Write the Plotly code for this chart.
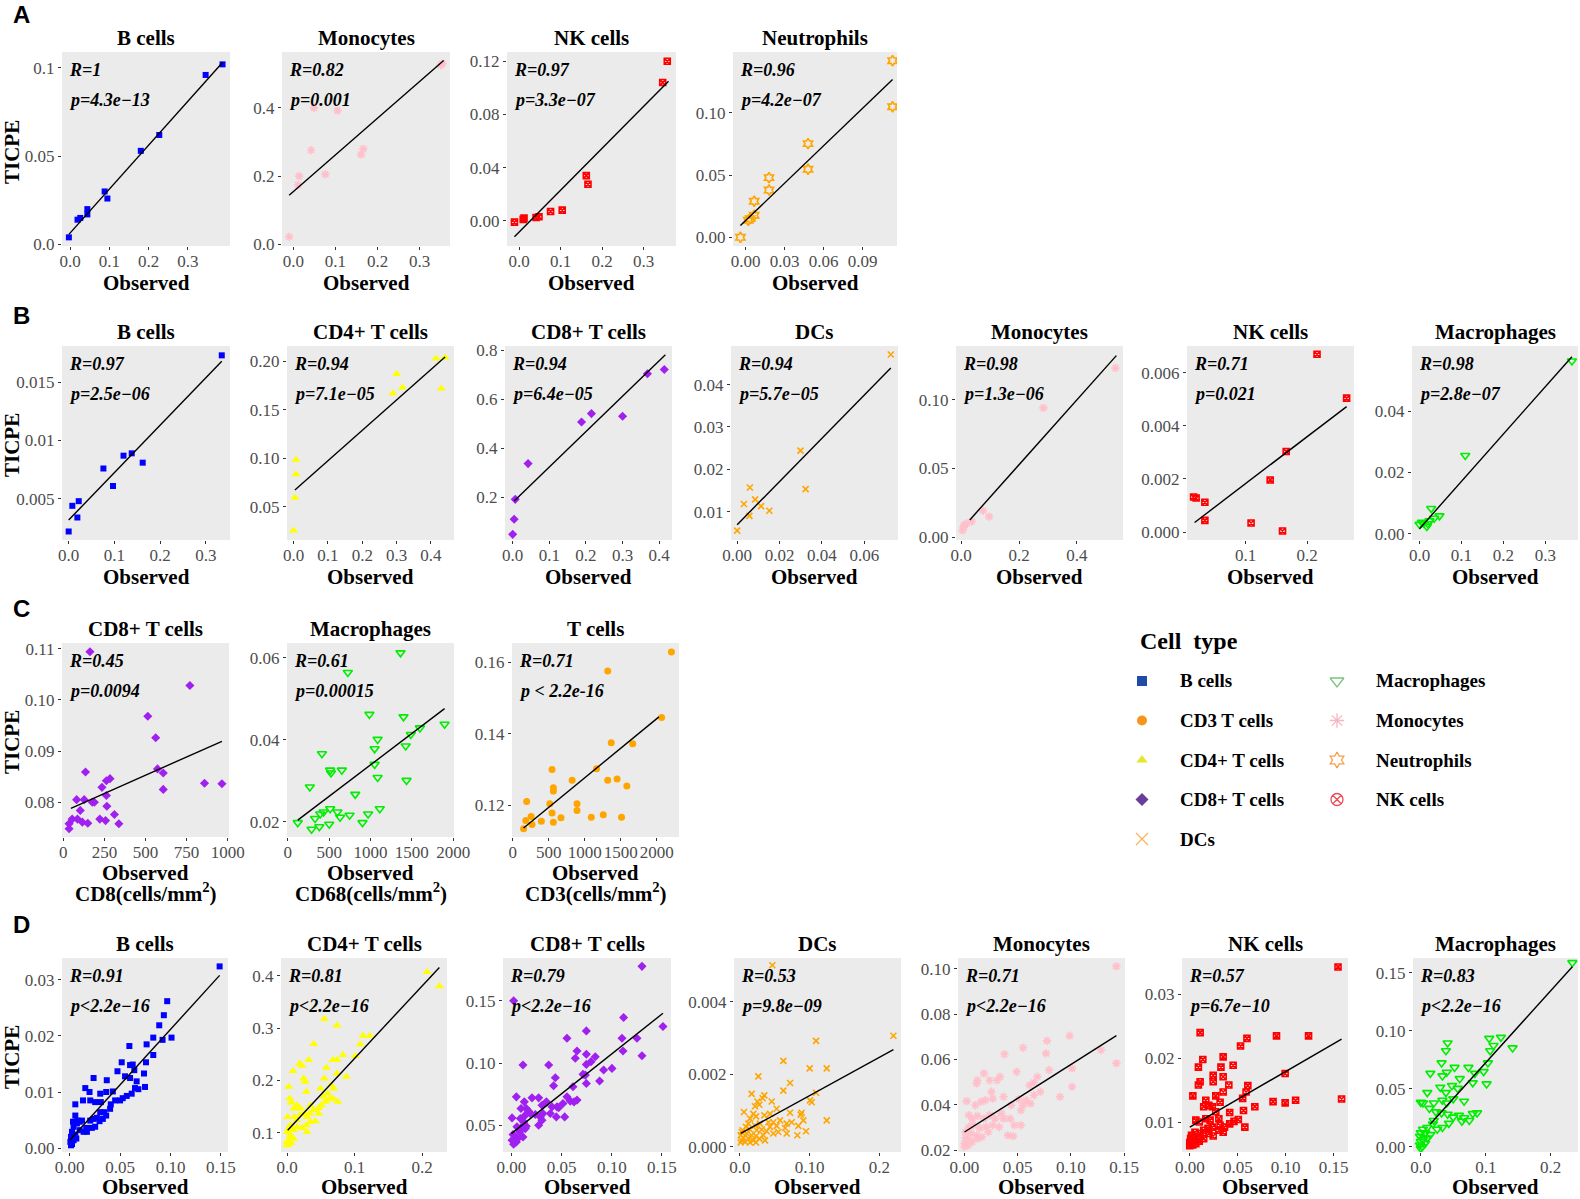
import plotly.graph_objects as go

W, H = 1580, 1199

# ---------------- data: (Observed, TICPE) ----------------
# panel A
A_bcells = [(-0.003, 0.004), (0.019, 0.014), (0.026, 0.015), (0.044, 0.017), (0.044, 0.020),
            (0.088, 0.030), (0.095, 0.026), (0.180, 0.053), (0.227, 0.062), (0.345, 0.096),
            (0.388, 0.102)]
A_bcells_fit = [(-0.003, 0.0057), (0.388, 0.103)]
A_mono = [(-0.010, 0.022), (0.011, 0.174), (0.014, 0.200), (0.042, 0.276), (0.049, 0.400),
          (0.076, 0.205), (0.105, 0.392), (0.161, 0.263), (0.166, 0.280), (0.350, 0.525),
          (0.354, 0.530)]
A_mono_fit = [(-0.010, 0.144), (0.357, 0.539)]
A_nk = [(-0.011, -0.001), (0.010, 0.001), (0.012, 0.002), (0.041, 0.0025), (0.048, 0.003),
        (0.076, 0.007), (0.104, 0.008), (0.162, 0.034), (0.166, 0.0275), (0.346, 0.104),
        (0.357, 0.120)]
A_nk_fit = [(-0.011, -0.012), (0.360, 0.105)]
A_neut = [(-0.004, 0.0), (0.002, 0.0137), (0.0035, 0.015), (0.0066, 0.0177), (0.0066, 0.029),
          (0.018, 0.048), (0.018, 0.038), (0.048, 0.0753), (0.048, 0.0547), (0.113, 0.142),
          (0.113, 0.105)]
A_neut_fit = [(-0.004, 0.0094), (0.113, 0.1268)]

# panel B
B_bcells = [(0.0, 0.0022), (0.008, 0.0044), (0.019, 0.0034), (0.022, 0.0048), (0.076, 0.0076),
            (0.097, 0.0061), (0.120, 0.0087), (0.138, 0.0089), (0.162, 0.0081), (0.335, 0.0173)]
B_bcells_fit = [(0.0, 0.00318), (0.335, 0.0168)]
B_cd4 = [(0.0, 0.0254), (0.004, 0.0594), (0.007, 0.0834), (0.007, 0.0986), (0.289, 0.167),
         (0.300, 0.187), (0.317, 0.173), (0.415, 0.203), (0.430, 0.172), (0.441, 0.204)]
B_cd4_fit = [(0.004, 0.0672), (0.441, 0.2045)]
B_cd8 = [(0.0, 0.049), (0.004, 0.111), (0.007, 0.192), (0.042, 0.338), (0.188, 0.508),
         (0.215, 0.542), (0.300, 0.531), (0.368, 0.705), (0.414, 0.722)]
B_cd8_fit = [(0.004, 0.185), (0.417, 0.782)]
B_dcs = [(0.0, 0.0055), (0.0032, 0.0118), (0.006, 0.0157), (0.0058, 0.0090), (0.0085, 0.0129),
         (0.0113, 0.0113), (0.0152, 0.0102), (0.0299, 0.0244), (0.0323, 0.0153), (0.0725, 0.0471)]
B_dcs_fit = [(0.0, 0.0069), (0.0725, 0.0439)]
B_mono = [(0.005, 0.005), (0.009, 0.0077), (0.012, 0.009), (0.019, 0.010), (0.037, 0.0114),
          (0.076, 0.0193), (0.097, 0.015), (0.284, 0.094), (0.533, 0.123)]
B_mono_fit = [(0.030, 0.0126), (0.536, 0.132)]
B_nk = [(0.0157, 0.00132), (0.0198, 0.00128), (0.034, 0.00112), (0.034, 0.00044), (0.109, 0.00034),
        (0.140, 0.00196), (0.160, 0.00004), (0.166, 0.00303), (0.216, 0.00669), (0.264, 0.00504)]
B_nk_fit = [(0.0174, 0.00036), (0.264, 0.00472)]
B_macro = [(0.0, 0.003), (0.0056, 0.0037), (0.0095, 0.0034), (0.0175, 0.0023), (0.0198, 0.0032),
           (0.0238, 0.0042), (0.0278, 0.0082), (0.035, 0.005), (0.0476, 0.0058), (0.109, 0.0255),
           (0.3635, 0.0564)]
B_macro_fit = [(0.0, 0.0016), (0.3635, 0.0578)]

# panel C (cells/mm2)
C_cd8 = [(35, 0.0758), (35, 0.0748), (54, 0.0767), (81, 0.0805), (86, 0.0767), (103, 0.0784),
         (116, 0.0761), (127, 0.0805), (135, 0.0859), (149, 0.0759), (162, 0.1094), (176, 0.0800),
         (189, 0.0800), (222, 0.0767), (235, 0.0829), (257, 0.0764), (262, 0.0813), (265, 0.0792),
         (262, 0.0842), (284, 0.0846), (311, 0.0776), (338, 0.0758), (514, 0.0968), (562, 0.0926),
         (573, 0.0865), (608, 0.0857), (608, 0.0825), (770, 0.1028), (859, 0.0837), (965, 0.0836)]
C_cd8_fit = [(46, 0.0788), (965, 0.0919)]
C_macro = [(120, 0.0198), (266, 0.0285), (287, 0.0182), (329, 0.0208), (381, 0.0188), (392, 0.0219),
           (413, 0.0366), (433, 0.0224), (501, 0.0194), (512, 0.0232), (512, 0.0326), (522, 0.0319),
           (600, 0.0224), (632, 0.0211), (653, 0.0326), (726, 0.0564), (747, 0.0216), (815, 0.0267),
           (903, 0.0198), (971, 0.0219), (987, 0.0462), (1050, 0.0340), (1050, 0.0378),
           (1086, 0.0401), (1086, 0.0308), (1112, 0.0232), (1363, 0.0612), (1399, 0.0456),
           (1426, 0.0385), (1436, 0.0301), (1488, 0.0413), (1598, 0.0429), (1896, 0.0438)]
C_macro_fit = [(120, 0.0204), (1896, 0.0476)]
C_tcells = [(149, 0.1135), (180, 0.1158), (192, 0.1211), (254, 0.1169), (266, 0.1147), (396, 0.1156),
            (514, 0.1205), (545, 0.1179), (545, 0.1300), (563, 0.1153), (563, 0.1249), (563, 0.1240),
            (669, 0.1166), (824, 0.1270), (892, 0.1205), (892, 0.1186), (1090, 0.1167), (1164, 0.1302),
            (1257, 0.1174), (1319, 0.1270), (1319, 0.1575), (1368, 0.1375), (1449, 0.1274),
            (1511, 0.1167), (1585, 0.1254), (1666, 0.1372), (2068, 0.1445), (2204, 0.1628)]
C_tcells_fit = [(149, 0.1137), (2031, 0.1447)]

# panel D
D_bcells = [(0.1487, 0.0324), (0.0967, 0.0262), (0.0934, 0.0237), (0.0888, 0.0219), (0.0829, 0.0197),
            (0.101, 0.0197), (0.0921, 0.0193), (0.0829, 0.0166), (0.0592, 0.0182), (0.0763, 0.0185),
            (0.0757, 0.0153), (0.0737, 0.0133), (0.0599, 0.0148), (0.0625, 0.0149), (0.0516, 0.0153),
            (0.0474, 0.0137), (0.0549, 0.0128), (0.0599, 0.0125), (0.0641, 0.0139), (0.0664, 0.0119),
            (0.0648, 0.0107), (0.0681, 0.0105), (0.0747, 0.0109), (0.0615, 0.0097), (0.0566, 0.0093),
            (0.0526, 0.0089), (0.05, 0.0085), (0.0451, 0.0085), (0.0428, 0.0101), (0.0368, 0.0121),
            (0.0362, 0.0100), (0.0303, 0.0097), (0.0237, 0.0125), (0.0155, 0.0107), (0.0197, 0.0100),
            (0.0204, 0.0085), (0.0132, 0.0085), (0.0056, 0.0078), (0.0253, 0.0082), (0.0309, 0.0082),
            (0.0401, 0.0070), (0.0408, 0.0078), (0.0362, 0.0058), (0.0329, 0.0052), (0.0296, 0.0048),
            (0.0270, 0.0054), (0.0237, 0.0052), (0.0204, 0.0049), (0.0164, 0.0036), (0.0220, 0.0036),
            (0.0253, 0.0038), (0.0303, 0.0064), (0.0342, 0.0064), (0.0122, 0.0049), (0.0099, 0.0047),
            (0.0072, 0.0044), (0.0039, 0.0038), (0.0023, 0.0029), (0.0013, 0.0020), (0.0007, 0.0011),
            (0.0023, 0.0007), (0.0039, 0.0014), (0.0066, 0.0017), (0.0056, 0.0024), (0.0099, 0.0032),
            (0.0138, 0.0029), (0.0171, 0.0029), (0.0033, 0.0047), (0.0079, 0.0049), (0.0056, 0.0058),
            (0.0013, 0.0005)]
D_bcells_fit = [(0.0, 0.0014), (0.1487, 0.0308)]
D_cd4 = [(0.2074, 0.407), (0.2257, 0.380), (0.0553, 0.3175), (0.0741, 0.305), (0.0395, 0.2695),
         (0.1126, 0.2855), (0.1225, 0.2855), (0.1086, 0.269), (0.1012, 0.2465), (0.0830, 0.2485),
         (0.0741, 0.2388), (0.0681, 0.2388), (0.0583, 0.2241), (0.0321, 0.2388), (0.0188, 0.2324),
         (0.0222, 0.228), (0.0089, 0.2177), (0.0025, 0.1877), (0.0247, 0.2036), (0.0272, 0.1972),
         (0.0286, 0.1781), (0.0494, 0.1845), (0.0553, 0.2036), (0.0741, 0.2132), (0.0879, 0.2069),
         (0.0652, 0.1909), (0.0691, 0.1845), (0.0751, 0.1589), (0.0681, 0.1653), (0.0632, 0.164),
         (0.0568, 0.1589), (0.0509, 0.1525), (0.0469, 0.1473), (0.0395, 0.1429), (0.0346, 0.1525),
         (0.0336, 0.1365), (0.0296, 0.1301), (0.0262, 0.1365), (0.0198, 0.1461), (0.0148, 0.1525),
         (0.0099, 0.1461), (0.0040, 0.1653), (0.0064, 0.1576), (0.0010, 0.1301), (0.0109, 0.1301),
         (0.0148, 0.1237), (0.0198, 0.1345), (0.0420, 0.1218), (0.0346, 0.1205), (0.0286, 0.1141),
         (0.0222, 0.1090), (0.0296, 0.1013), (0.0148, 0.1109), (0.0099, 0.1045), (0.0049, 0.1141),
         (0.0025, 0.1077), (0.0010, 0.1013), (0.0040, 0.0949), (0.0074, 0.0917), (0.0025, 0.0853),
         (0.0, 0.082), (0.0059, 0.0808), (0.0025, 0.0776), (0.0, 0.0757), (0.0099, 0.0885),
         (0.0469, 0.1365), (0.0602, 0.1749), (0.0543, 0.1685)]
D_cd4_fit = [(0.001, 0.1045), (0.2257, 0.416)]
D_cd8 = [(0.1301, 0.1777), (0.1118, 0.1366), (0.1510, 0.1293), (0.1251, 0.1199), (0.1102, 0.1199),
         (0.1112, 0.1097), (0.1301, 0.1059), (0.1002, 0.0957), (0.0919, 0.0944), (0.0879, 0.0855),
         (0.0836, 0.1051), (0.0793, 0.1011), (0.0747, 0.1258), (0.0747, 0.1070), (0.0747, 0.0989),
         (0.0737, 0.0903), (0.0747, 0.0836), (0.0714, 0.0909), (0.0654, 0.1097), (0.0637, 0.1038),
         (0.0554, 0.1199), (0.0372, 0.0984), (0.0116, 0.0984), (0.0023, 0.15), (0.0614, 0.0809),
         (0.0654, 0.0702), (0.0624, 0.0688), (0.0587, 0.0694), (0.0554, 0.0728), (0.0514, 0.0675),
         (0.0531, 0.0567), (0.0455, 0.0648), (0.0471, 0.0640), (0.0438, 0.0882), (0.0421, 0.0817),
         (0.0405, 0.0648), (0.0448, 0.0567), (0.0388, 0.0594), (0.0349, 0.0688), (0.0305, 0.0661),
         (0.0315, 0.0594), (0.0272, 0.0720), (0.0289, 0.0567), (0.0272, 0.05), (0.0305, 0.0540),
         (0.0206, 0.0720), (0.0239, 0.0586), (0.0189, 0.0594), (0.0149, 0.0634), (0.0173, 0.0613),
         (0.0129, 0.0688), (0.0096, 0.0634), (0.0139, 0.0581), (0.0090, 0.0554), (0.0123, 0.0527),
         (0.0149, 0.0492), (0.0139, 0.0473), (0.0106, 0.0487), (0.0116, 0.0406), (0.0083, 0.0446),
         (0.0056, 0.0487), (0.0040, 0.0406), (0.0017, 0.0425), (0.0007, 0.0379), (0.0023, 0.0347),
         (0.0050, 0.0366), (0.0007, 0.0559), (0.0050, 0.0728), (0.0063, 0.0392)]
D_cd8_fit = [(0.0, 0.0433), (0.151, 0.140)]
D_dcs = [(0.0464, 0.0050), (0.2201, 0.00306), (0.1091, 0.00292), (0.0622, 0.00237), (0.1, 0.00216),
         (0.1244, 0.00216), (0.0263, 0.00194), (0.0718, 0.00176), (0.0622, 0.00155), (0.0167, 0.00146),
         (0.1091, 0.00149), (0.1005, 0.00128), (0.1029, 0.00123), (0.0349, 0.00142), (0.0325, 0.00134),
         (0.0249, 0.00125), (0.0278, 0.00116), (0.0455, 0.00125), (0.0215, 0.00112), (0.0057, 0.00096),
         (0.0526, 0.00105), (0.0718, 0.00094), (0.0885, 0.00094), (0.0871, 0.00089), (0.0431, 0.00091),
         (0.0349, 0.00087), (0.0230, 0.00084), (0.0144, 0.00078), (0.0191, 0.00091), (0.0909, 0.00073),
         (0.1244, 0.00073), (0.0574, 0.00073), (0.0478, 0.00068), (0.0407, 0.00068), (0.067, 0.00064),
         (0.0742, 0.00068), (0.0837, 0.00058), (0.0646, 0.00052), (0.0526, 0.00058), (0.0431, 0.00055),
         (0.0287, 0.00064), (0.0215, 0.00059), (0.0120, 0.00064), (0.0086, 0.00055), (0.0144, 0.00048),
         (0.0239, 0.00046), (0.0311, 0.00048), (0.0383, 0.00043), (0.0478, 0.00037), (0.0550, 0.00041),
         (0.0670, 0.00037), (0.0947, 0.00043), (0.0823, 0.00032), (0.0335, 0.00032), (0.0230, 0.00030),
         (0.0167, 0.00032), (0.0096, 0.00037), (0.0024, 0.00041), (0.0010, 0.00032), (0.0048, 0.00025),
         (0.0120, 0.00023), (0.0191, 0.00018), (0.0278, 0.00023), (0.0359, 0.00018), (0.0024, 0.00018),
         (0.0072, 0.00014), (0.0010, 0.00012), (0.0144, 0.00012), (0.0230, 0.00012), (0.0038, 0.00046)]
D_dcs_fit = [(0.001, 0.00037), (0.2201, 0.00268)]
D_mono = [(0.1427, 0.101), (0.1427, 0.0583), (0.1284, 0.0642), (0.0987, 0.0705), (0.0775, 0.0682),
          (0.0766, 0.0627), (0.0550, 0.0652), (0.0375, 0.0623), (0.0795, 0.0554), (0.1011, 0.0561),
          (0.1011, 0.0480), (0.0897, 0.0436), (0.0685, 0.0524), (0.0652, 0.0499), (0.0612, 0.0487),
          (0.0579, 0.0421), (0.0550, 0.0399), (0.0510, 0.0425), (0.0489, 0.0546), (0.0530, 0.0377),
          (0.0440, 0.0399), (0.0367, 0.0436), (0.0334, 0.0524), (0.0306, 0.0509), (0.0236, 0.0509),
          (0.0183, 0.0539), (0.0122, 0.0509), (0.0114, 0.0495), (0.0253, 0.0458), (0.0265, 0.0428),
          (0.0196, 0.0421), (0.0155, 0.0414), (0.0102, 0.0399), (0.0020, 0.0417), (0.0041, 0.0355),
          (0.0073, 0.0340), (0.0122, 0.0352), (0.0183, 0.0340), (0.0236, 0.0355), (0.0285, 0.0340),
          (0.0347, 0.0362), (0.0367, 0.0340), (0.0428, 0.0340), (0.0469, 0.0311), (0.0530, 0.0311),
          (0.0408, 0.0266), (0.0457, 0.0263), (0.0326, 0.0303), (0.0265, 0.0311), (0.0204, 0.0303),
          (0.0143, 0.0299), (0.0082, 0.0311), (0.0041, 0.0303), (0.0008, 0.0281), (0.0061, 0.0274),
          (0.0114, 0.0266), (0.0163, 0.0259), (0.0224, 0.0281), (0.0012, 0.0255), (0.0041, 0.0244),
          (0.0, 0.0229), (0.0033, 0.0222), (0.0073, 0.0237), (0.0122, 0.0252), (0.0, 0.0215),
          (0.0652, 0.0443), (0.0713, 0.0458), (0.0620, 0.0406)]
D_mono_fit = [(0.0, 0.0281), (0.1427, 0.0705)]
D_nk = [(0.1545, 0.0343), (0.1582, 0.0136), (0.0108, 0.0240), (0.1238, 0.0235), (0.0904, 0.0235),
        (0.0596, 0.0231), (0.0529, 0.0219), (0.0136, 0.0198), (0.0090, 0.0186), (0.0348, 0.0202),
        (0.0452, 0.0189), (0.0325, 0.0186), (0.0244, 0.0163), (0.0348, 0.0171), (0.0244, 0.0173),
        (0.0090, 0.0158), (0.0108, 0.0163), (0.0032, 0.0141), (0.0605, 0.0157), (0.0994, 0.0176),
        (0.0868, 0.0132), (0.0994, 0.0130), (0.1103, 0.0134), (0.0678, 0.0124), (0.0587, 0.0147),
        (0.0551, 0.0137), (0.0560, 0.0118), (0.0416, 0.0115), (0.0348, 0.0147), (0.0316, 0.0131),
        (0.0167, 0.0134), (0.0199, 0.0126), (0.0145, 0.0124), (0.0235, 0.0124), (0.0303, 0.0105),
        (0.0271, 0.0116), (0.0416, 0.0097), (0.0506, 0.0104), (0.0574, 0.0092), (0.0461, 0.0101),
        (0.0362, 0.0092), (0.0316, 0.0095), (0.0235, 0.0092), (0.0167, 0.0105), (0.0212, 0.0103),
        (0.0099, 0.0100), (0.0063, 0.0103), (0.0145, 0.0087), (0.0199, 0.0082), (0.0244, 0.0078),
        (0.0348, 0.0084), (0.0303, 0.0087), (0.0108, 0.0082), (0.0054, 0.0084), (0.0018, 0.0079),
        (0.0077, 0.0076), (0.0009, 0.0074), (0.0045, 0.0071), (0.0, 0.0068), (0.0032, 0.0064),
        (0.0, 0.0063), (0.0063, 0.0066), (0.0099, 0.0070), (0.0145, 0.0074), (0.0190, 0.0090),
        (0.0271, 0.0141), (0.0407, 0.0158)]
D_nk_fit = [(0.0, 0.0092), (0.1582, 0.0230)]
D_macro = [(0.2333, 0.1587), (0.1233, 0.0943), (0.1413, 0.0852), (0.1053, 0.0934), (0.112, 0.0873),
           (0.1067, 0.0828), (0.0413, 0.0895), (0.0387, 0.0828), (0.032, 0.0723), (0.052, 0.0684),
           (0.04, 0.0642), (0.0333, 0.0611), (0.0147, 0.0633), (0.1033, 0.0723), (0.0967, 0.0648),
           (0.1013, 0.0542), (0.0833, 0.0633), (0.08, 0.0551), (0.0733, 0.0684), (0.06, 0.0587),
           (0.0567, 0.0503), (0.048, 0.0527), (0.0667, 0.0392), (0.05, 0.0413), (0.0387, 0.0467),
           (0.0333, 0.0401), (0.03, 0.0512), (0.02, 0.0377), (0.01, 0.0467), (0.0033, 0.0377),
           (0.0, 0.0383), (0.0133, 0.0331), (0.0233, 0.0301), (0.032, 0.0292), (0.0413, 0.0280),
           (0.05, 0.0256), (0.0587, 0.0271), (0.0667, 0.0250), (0.0747, 0.0226), (0.0867, 0.0292),
           (0.08, 0.0286), (0.0633, 0.0220), (0.0433, 0.0202), (0.0333, 0.0166), (0.0253, 0.0151),
           (0.0187, 0.0196), (0.01, 0.0166), (0.0033, 0.0151), (0.0067, 0.0120), (0.0147, 0.0105),
           (0.0, 0.0120), (-0.0013, 0.0090), (0.0033, 0.0060), (0.0, 0.0045), (-0.0013, 0.0015),
           (0.0020, 0.0), (0.0, -0.0015), (0.0067, 0.0030), (0.01, 0.0075), (0.02, 0.0226),
           (0.04, 0.0377)]
D_macro_fit = [(0.0147, 0.0196), (0.2333, 0.1551)]

LEGEND_COL1 = ["B cells", "CD3 T cells", "CD4+ T cells", "CD8+ T cells", "DCs"]
LEGEND_COL2 = ["Macrophages", "Monocytes", "Neutrophils", "NK cells"]

# ---------------- styles ----------------
SERIF = "Liberation Serif"
TICK_COLOR = "#4D4D4D"
STYLE = {
    "B cells": dict(symbol="square", color="#0000FF", size=6, open=False),
    "Monocytes": dict(symbol="asterisk-open", color="#FFC0CB", size=7, open=True),
    "NK cells": dict(symbol="square-x-open", color="#FF0000", size=6, open=True),
    "Neutrophils": dict(symbol="hexagram-open", color="#FFA500", size=8, open=True),
    "CD4+ T cells": dict(symbol="triangle-up", color="#FFFF00", size=8, open=False),
    "CD8+ T cells": dict(symbol="diamond", color="#A020F0", size=7, open=False),
    "DCs": dict(symbol="x-thin-open", color="#FFA500", size=6, open=True),
    "Macrophages": dict(symbol="triangle-down-open", color="#00EE00", size=8, open=True),
    "T cells": dict(symbol="circle", color="#FFA500", size=7, open=False),
}
LEGEND_STYLE = {
    "B cells": ("square", "#1F4CA6"), "CD3 T cells": ("circle", "#F7941D"),
    "CD4+ T cells": ("triangle-up", "#E6E62E"), "CD8+ T cells": ("diamond", "#6A3D9A"),
    "DCs": ("x-thin-open", "#F9B35B"), "Macrophages": ("triangle-down-open", "#7CC47C"),
    "Monocytes": ("asterisk-open", "#F7B6C4"), "Neutrophils": ("hexagram-open", "#F5A04A"),
    "NK cells": ("circle-x-open", "#EE4A5A"),
}

# rows: top / bottom of the grey panel (px) and offset of the "Observed" label
ROWS = {"A": (52, 246), "B": (346, 540), "C": (643, 837), "D": (958, 1152)}
OBS_OFFSET = {"A": 37, "B": 37, "C": 36, "D": 35}

# (row, title, points, fit, R, p, x0, x1 px, xrange, yrange, xticks, xlabels, yticks, ylabels, xunit)
t3 = ["0.0", "0.1", "0.2", "0.3"]
t4 = ["0.0", "0.1", "0.2", "0.3", "0.4"]
panels = [
    ("A", "B cells", A_bcells, A_bcells_fit, "R=1", "p=4.3e\u221213", 62, 230,
     [-0.0205, 0.407], [-0.0009, 0.109], [0, .1, .2, .3], t3, [0, .05, .1], ["0.0", "0.05", "0.1"], None),
    ("A", "Monocytes", A_mono, A_mono_fit, "R=0.82", "p=0.001", 282, 450,
     [-0.027, 0.372], [-0.005, 0.564], [0, .1, .2, .3], t3, [0, .2, .4], ["0.0", "0.2", "0.4"], None),
    ("A", "NK cells", A_nk, A_nk_fit, "R=0.97", "p=3.3e\u221207", 507, 676,
     [-0.029, 0.378], [-0.019, 0.127], [0, .1, .2, .3], t3, [0, .04, .08, .12],
     ["0.00", "0.04", "0.08", "0.12"], None),
    ("A", "Neutrophils", A_neut, A_neut_fit, "R=0.96", "p=4.2e\u221207", 733, 897,
     [-0.0097, 0.1164], [-0.007, 0.149], [0, .03, .06, .09], ["0.00", "0.03", "0.06", "0.09"],
     [0, .05, .1], ["0.00", "0.05", "0.10"], None),

    ("B", "B cells", B_bcells, B_bcells_fit, "R=0.97", "p=2.5e\u221206", 62, 230,
     [-0.0146, 0.353], [0.00147, 0.0181], [0, .1, .2, .3], t3, [.005, .01, .015],
     ["0.005", "0.01", "0.015"], None),
    ("B", "CD4+ T cells", B_cd4, B_cd4_fit, "R=0.94", "p=7.1e\u221205", 287, 454,
     [-0.019, 0.467], [0.0157, 0.2158], [0, .1, .2, .3, .4], t4, [.05, .1, .15, .2],
     ["0.05", "0.10", "0.15", "0.20"], None),
    ("B", "CD8+ T cells", B_cd8, B_cd8_fit, "R=0.94", "p=6.4e\u221205", 505, 672,
     [-0.021, 0.435], [0.026, 0.818], [0, .1, .2, .3, .4], t4, [.2, .4, .6, .8],
     ["0.2", "0.4", "0.6", "0.8"], None),
    ("B", "DCs", B_dcs, B_dcs_fit, "R=0.94", "p=5.7e\u221205", 731, 898,
     [-0.0029, 0.0759], [0.0033, 0.0491], [0, .02, .04, .06], ["0.00", "0.02", "0.04", "0.06"],
     [.01, .02, .03, .04], ["0.01", "0.02", "0.03", "0.04"], None),
    ("B", "Monocytes", B_mono, B_mono_fit, "R=0.98", "p=1.3e\u221206", 956, 1123,
     [-0.0176, 0.559], [-0.002, 0.139], [0, .2, .4], ["0.0", "0.2", "0.4"], [0, .05, .1],
     ["0.00", "0.05", "0.10"], None),
    ("B", "NK cells", B_nk, B_nk_fit, "R=0.71", "p=0.021", 1187, 1354,
     [0.005, 0.276], [-0.0003, 0.0070], [.1, .2], ["0.1", "0.2"], [0, .002, .004, .006],
     ["0.000", "0.002", "0.004", "0.006"], None),
    ("B", "Macrophages", B_macro, B_macro_fit, "R=0.98", "p=2.8e\u221207", 1412, 1578,
     [-0.018, 0.378], [-0.0021, 0.0613], [0, .1, .2, .3], t3, [0, .02, .04],
     ["0.00", "0.02", "0.04"], None),

    ("C", "CD8+ T cells", C_cd8, C_cd8_fit, "R=0.45", "p=0.0094", 62, 229,
     [-8, 1008], [0.0732, 0.1111], [0, 250, 500, 750, 1000], ["0", "250", "500", "750", "1000"],
     [.08, .09, .10, .11], ["0.08", "0.09", "0.10", "0.11"], "CD8"),
    ("C", "Macrophages", C_macro, C_macro_fit, "R=0.61", "p=0.00015", 287, 454,
     [-10, 2010], [0.0163, 0.0636], [0, 500, 1000, 1500, 2000], ["0", "500", "1000", "1500", "2000"],
     [.02, .04, .06], ["0.02", "0.04", "0.06"], "CD68"),
    ("C", "T cells", C_tcells, C_tcells_fit, "R=0.71", "p < 2.2e-16", 512, 679,
     [-12, 2310], [0.1112, 0.1653], [0, 500, 1000, 1500, 2000], ["0", "500", "1000", "1500", "2000"],
     [.12, .14, .16], ["0.12", "0.14", "0.16"], "CD3"),

    ("D", "B cells", D_bcells, D_bcells_fit, "R=0.91", "p<2.2e\u221216", 62, 228,
     [-0.0076, 0.157], [-0.0007, 0.0339], [0, .05, .1, .15], ["0.00", "0.05", "0.10", "0.15"],
     [0, .01, .02, .03], ["0.00", "0.01", "0.02", "0.03"], None),
    ("D", "CD4+ T cells", D_cd4, D_cd4_fit, "R=0.81", "p<2.2e\u221216", 281, 447,
     [-0.0089, 0.237], [0.063, 0.434], [0, .1, .2], ["0.0", "0.1", "0.2"], [.1, .2, .3, .4],
     ["0.1", "0.2", "0.3", "0.4"], None),
    ("D", "CD8+ T cells", D_cd8, D_cd8_fit, "R=0.79", "p<2.2e\u221216", 503, 671,
     [-0.0083, 0.159], [0.0285, 0.1844], [0, .05, .1, .15], ["0.00", "0.05", "0.10", "0.15"],
     [.05, .1, .15], ["0.05", "0.10", "0.15"], None),
    ("D", "DCs", D_dcs, D_dcs_fit, "R=0.53", "p=9.8e\u221209", 734, 901,
     [-0.0086, 0.231], [-0.00014, 0.0052], [0, .1, .2], ["0.0", "0.10", "0.2"], [0, .002, .004],
     ["0.000", "0.002", "0.004"], None),
    ("D", "Monocytes", D_mono, D_mono_fit, "R=0.71", "p<2.2e\u221216", 958, 1125,
     [-0.0061, 0.1508], [0.0193, 0.1047], [0, .05, .1, .15], ["0.00", "0.05", "0.10", "0.15"],
     [.02, .04, .06, .08, .1], ["0.02", "0.04", "0.06", "0.08", "0.10"], None),
    ("D", "NK cells", D_nk, D_nk_fit, "R=0.57", "p=6.7e\u221210", 1182, 1348,
     [-0.0081, 0.1649], [0.0053, 0.0357], [0, .05, .1, .15], ["0.00", "0.05", "0.10", "0.15"],
     [.01, .02, .03], ["0.01", "0.02", "0.03"], None),
    ("D", "Macrophages", D_macro, D_macro_fit, "R=0.83", "p<2.2e\u221216", 1413, 1578,
     [-0.012, 0.242], [-0.0045, 0.1627], [0, .1, .2], ["0.0", "0.1", "0.2"], [0, .05, .1, .15],
     ["0.00", "0.05", "0.10", "0.15"], None),
]


def fx(x):
    return x / W


def fy(y):
    return 1 - y / H


def label(x, y, text, size, xanchor="center", family=SERIF, **kw):
    return dict(x=fx(x), y=fy(y), xref="paper", yref="paper", text=text, showarrow=False,
                xanchor=xanchor, yanchor="middle",
                font=dict(family=family, size=size, color="black"), **kw)


fig = go.Figure()
annotations = []
layout = {}

for i, (row, title, pts, fit, r_txt, p_txt, x0, x1, xr, yr, xt, xl, yt, yl, unit) in enumerate(panels):
    k = i + 1
    top, bottom = ROWS[row]
    xa, ya = ("x", "y") if k == 1 else (f"x{k}", f"y{k}")
    axis_common = dict(showgrid=False, zeroline=False, showline=False, ticks="outside",
                       ticklen=3, tickcolor="#333333", tickwidth=1,
                       tickfont=dict(family=SERIF, size=17, color=TICK_COLOR))
    layout["xaxis" if k == 1 else f"xaxis{k}"] = dict(
        domain=[fx(x0), fx(x1)], range=xr, anchor=ya, tickmode="array", tickvals=xt,
        ticktext=xl, tickangle=0, ticklabelstandoff=-3, **axis_common)
    layout["yaxis" if k == 1 else f"yaxis{k}"] = dict(
        domain=[fy(bottom), fy(top)], range=yr, anchor=xa, tickmode="array", tickvals=yt,
        ticktext=yl, **axis_common)

    st = STYLE[title]
    xs, ys = zip(*pts)
    marker = dict(symbol=st["symbol"], size=st["size"], color=st["color"])
    marker["line"] = dict(color=st["color"], width=1.6 if st["open"] else 0)
    fig.add_trace(go.Scatter(x=xs, y=ys, mode="markers", marker=marker, xaxis=xa, yaxis=ya,
                             showlegend=False, hoverinfo="skip"))
    fxs, fys = zip(*fit)
    fig.add_trace(go.Scatter(x=fxs, y=fys, mode="lines", line=dict(color="black", width=1.4),
                             xaxis=xa, yaxis=ya, showlegend=False, hoverinfo="skip"))

    # grey panel background
    fig.add_shape(type="rect", xref="paper", yref="paper", x0=fx(x0), x1=fx(x1),
                  y0=fy(bottom), y1=fy(top), fillcolor="#EBEBEB", line_width=0, layer="below")

    cx = (x0 + x1) / 2
    obs_y = bottom + OBS_OFFSET[row]
    annotations.append(label(cx, top - 14, f"<b>{title}</b>", 21))
    annotations.append(label(x0 + 5, top + 18, f"<b><i>{r_txt}</i></b>", 18, "left"))
    annotations.append(label(x0 + 5, top + 48, f"<b><i>{p_txt}</i></b>", 18, "left"))
    annotations.append(label(cx, obs_y, "<b>Observed</b>", 21))
    if unit:
        annotations.append(label(cx, obs_y + 19, f"<b>{unit}(cells/mm<sup>2</sup>)</b>", 21))

# row letters and y titles
for letter, ycen, ylab in [("A", 15, 152), ("B", 315, 445), ("C", 608, 742), ("D", 924, 1057)]:
    annotations.append(label(21, ycen, f"<b>{letter}</b>", 24, family="Liberation Sans"))
    annotations.append(label(12, ylab, "<b>TICPE</b>", 21, textangle=-90))

# legend drawn on a full-figure pixel axis
n = len(panels) + 1
layout[f"xaxis{n}"] = dict(domain=[0, 1], range=[0, W], visible=False, anchor=f"y{n}")
layout[f"yaxis{n}"] = dict(domain=[0, 1], range=[H, 0], visible=False, anchor=f"x{n}")
annotations.append(label(1138, 641, "<b>Cell  type</b>", 24, "left"))
for col, (labels, mx, tx) in enumerate([(LEGEND_COL1, 1142, 1178), (LEGEND_COL2, 1337, 1374)]):
    for j, lab in enumerate(labels):
        yy = 681 + j * 39.5
        sym, colr = LEGEND_STYLE[lab]
        is_open = sym.endswith("open")
        fig.add_trace(go.Scatter(
            x=[mx], y=[yy], mode="markers", xaxis=f"x{n}", yaxis=f"y{n}", showlegend=False,
            hoverinfo="skip",
            marker=dict(symbol=sym, size=12 if is_open else 10, color=colr,
                        line=dict(color=colr, width=1.3 if is_open else 0))))
        annotations.append(label(tx, yy, f"<b>{lab}</b>", 19, "left"))

fig.update_layout(width=W, height=H, margin=dict(l=0, r=0, t=0, b=0, autoexpand=False),
                  paper_bgcolor="white", plot_bgcolor="rgba(0,0,0,0)",
                  annotations=annotations, showlegend=False, **layout)

# page body margin would push the fixed-size figure 8px off
fig.write_html("out.html", config={"displayModeBar": False},
               post_script="document.body.style.margin='0px';")
